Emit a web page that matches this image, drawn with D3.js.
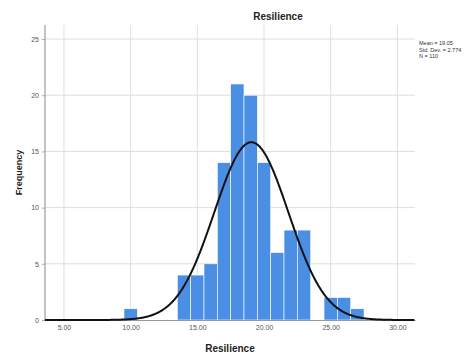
<!DOCTYPE html>
<html>
<head>
<meta charset="utf-8">
<script src="https://cdn.jsdelivr.net/npm/d3@7"></script>
<style>
  body { margin: 0; background: #fff; }
  svg { font-family: "Liberation Sans", Arial, sans-serif; }
</style>
</head>
<body>
<div id="chart"></div>
<script>
const binCenters = [10, 14, 15, 16, 17, 18, 19, 20, 21, 22, 23, 25, 26, 27];
const binCounts = [1, 4, 4, 5, 14, 21, 20, 14, 6, 8, 8, 2, 2, 1];
const binWidth = 1;
const xTicks = [5, 10, 15, 20, 25, 30];
const yTicks = [0, 5, 10, 15, 20, 25];
const stats = { mean: 19.05, sd: 2.774, n: 110 };
const statLabels = ['Mean = 19.05', 'Std. Dev. = 2.774', 'N = 110'];

const width = 476, height = 360;
const plot = { left: 45, right: 415, top: 25, bottom: 320 };

const svg = d3.select('#chart').append('svg')
    .attr('width', width)
    .attr('height', height);

const x = d3.scaleLinear().domain([3.58, 31.32]).range([plot.left, plot.right]);
const y = d3.scaleLinear().domain([0, 26.25]).range([plot.bottom, plot.top]);

// grid
svg.append('g').selectAll('line')
    .data(yTicks.filter(d => d > 0))
    .enter().append('line')
    .attr('x1', plot.left).attr('x2', plot.right)
    .attr('y1', d => y(d)).attr('y2', d => y(d))
    .attr('stroke', '#dedede');

svg.append('g').selectAll('line')
    .data(xTicks)
    .enter().append('line')
    .attr('x1', d => x(d)).attr('x2', d => x(d))
    .attr('y1', plot.top).attr('y2', plot.bottom)
    .attr('stroke', '#dedede');

// bars
svg.append('g').selectAll('rect')
    .data(binCenters)
    .enter().append('rect')
    .attr('x', d => x(d - binWidth / 2))
    .attr('width', d => x(d + binWidth / 2) - x(d - binWidth / 2))
    .attr('y', (d, i) => y(binCounts[i]))
    .attr('height', (d, i) => plot.bottom - y(binCounts[i]))
    .attr('fill', '#4b8fe4')
    .attr('stroke', '#fff')
    .attr('stroke-width', 0.6);

// axes
const yAxis = svg.append('g')
    .attr('transform', `translate(${plot.left},0)`)
    .call(d3.axisLeft(y).tickValues(yTicks).tickSize(3).tickFormat(d3.format('d')));
yAxis.select('.domain').attr('stroke', '#888').attr('d', `M0,${plot.top}V${plot.bottom}`);
yAxis.selectAll('.tick line').attr('stroke', '#aaa');
yAxis.selectAll('text').attr('font-size', 7).attr('fill', '#555').attr('font-family', 'Liberation Sans');

const xAxis = svg.append('g')
    .attr('transform', `translate(0,${plot.bottom})`)
    .call(d3.axisBottom(x).tickValues(xTicks).tickSize(0).tickPadding(5).tickFormat(d3.format('.2f')));
xAxis.select('.domain').attr('stroke', '#999');
xAxis.selectAll('text').attr('font-size', 7).attr('fill', '#555').attr('font-family', 'Liberation Sans');

// normal curve
const pts = d3.range(x.domain()[0], x.domain()[1] + 0.01, 0.05);
const dens = v => stats.n * binWidth / (stats.sd * Math.sqrt(2 * Math.PI)) *
    Math.exp(-0.5 * Math.pow((v - stats.mean) / stats.sd, 2));
svg.append('path')
    .datum(pts)
    .attr('fill', 'none')
    .attr('stroke', '#111')
    .attr('stroke-width', 2)
    .attr('d', d3.line().x(d => x(d)).y(d => y(dens(d))));

// titles
svg.append('text')
    .attr('x', 278).attr('y', 20)
    .attr('text-anchor', 'middle')
    .attr('font-size', 10).attr('font-weight', 'bold').attr('fill', '#222')
    .text('Resilience');

svg.append('text')
    .attr('x', (plot.left + plot.right) / 2).attr('y', 352)
    .attr('text-anchor', 'middle')
    .attr('font-size', 10).attr('font-weight', 'bold').attr('fill', '#222')
    .text('Resilience');

svg.append('text')
    .attr('transform', `translate(22,${(plot.top + plot.bottom) / 2}) rotate(-90)`)
    .attr('text-anchor', 'middle')
    .attr('font-size', 9).attr('font-weight', 'bold').attr('fill', '#222')
    .text('Frequency');

svg.append('g').selectAll('text')
    .data(statLabels)
    .enter().append('text')
    .attr('x', 419)
    .attr('y', (d, i) => 45 + i * 6.5)
    .attr('font-size', 5.5).attr('fill', '#333')
    .text(d => d);
</script>
</body>
</html>
